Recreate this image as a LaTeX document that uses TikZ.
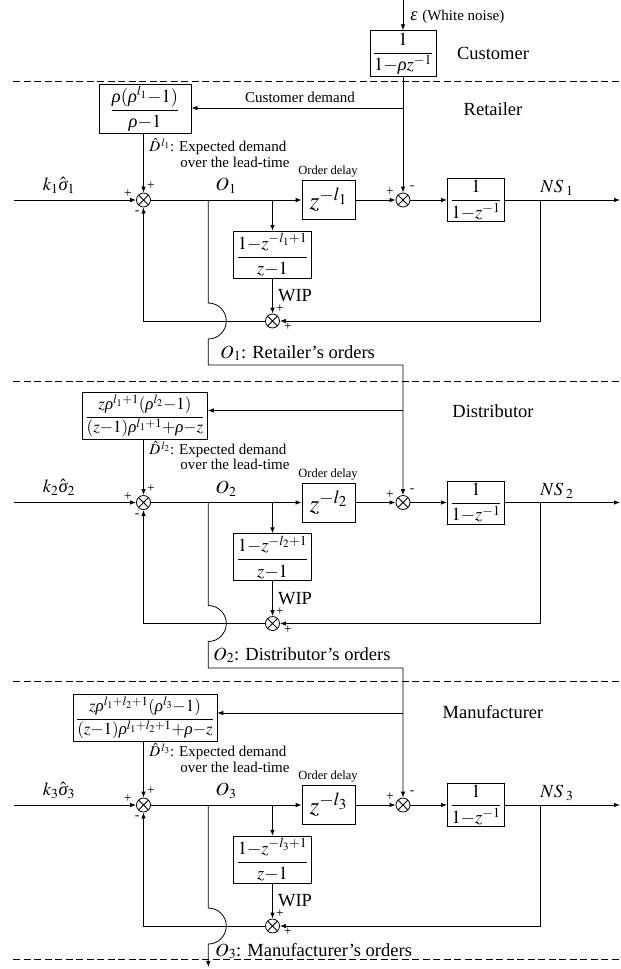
\documentclass[tikz,border=0pt]{standalone}
\usepackage{mathptmx}
\usepackage{amsmath}
\usepackage[no-math]{fontspec}
\setmainfont{Liberation Serif}
\usetikzlibrary{arrows.meta}
\newcommand\grho{\mathord{\textit{ρ}}}
\newcommand\gsig{\mathord{\textit{σ}}}
\newcommand\geps{\mathord{\textit{ε}}}
\tikzset{
  every node/.style={font=\fontsize{18.5}{22}\selectfont, inner sep=0pt},
  med/.style={font=\fontsize{15}{17}\selectfont},
  tiny/.style={font=\fontsize{12.5}{14}\selectfont},
  big/.style={font=\fontsize{25}{28}\selectfont},
  sgn/.style={font=\fontsize{13.5}{15}\selectfont},
  blk/.style={draw, line width=0.8pt, fill=white, inner xsep=3pt, inner ysep=2pt, minimum height=39pt},
  sumj/.style={circle, draw, line width=0.8pt, minimum size=14pt, inner sep=0pt, fill=white,
    path picture={\draw[line width=0.8pt] (path picture bounding box.north west)--(path picture bounding box.south east)
      (path picture bounding box.north east)--(path picture bounding box.south west);}},
  sig/.style={-{Latex[length=6pt,width=4.5pt]}},
  sepline/.style={dash pattern=on 7pt off 3.5pt, line width=0.6pt},
}
\newcommand\Stage[5]{%
\begin{scope}[shift={(0,#2)}]
  \coordinate (in#1) at (14,0);
  \node[sumj] (s#1) at (143.5,0) {};
  \node[blk, big, minimum width=53pt] (dl#1) at (328.5,0) {$z^{-l_#1}$};
  \node[sumj] (t#1) at (403,0) {};
  \node[blk, minimum width=56pt] (ig#1) at (476,0) {$\dfrac{1}{1{-}z^{-1}}$};
  \coordinate (out#1) at (620,0);
  \coordinate (ns#1) at (540.3,0);
  \coordinate (o#1) at (208.3,0);
  \coordinate (w#1) at (272.5,0);
  \node[blk, minimum width=70pt, minimum height=43pt] (wb#1) at (272.5,54.7) {$\dfrac{1{-}z^{-l_#1+1}}{z{-}1}$};
  \node[sumj] (ws#1) at (272.5,121) {};
  \coordinate (fl#1) at (143.5,121);
  \coordinate (fr#1) at (540.3,121);
  \node[blk, #5] (dm#1) at (145,#4) {#3};
  \coordinate (dj#1) at (403,-92);
  \coordinate (hop#1) at (208.3,103);
  \draw[sig] (in#1) -- (s#1);
  \draw[sig] (s#1) -- (dl#1);
  \draw[sig] (dl#1) -- (t#1);
  \draw[sig] (t#1) -- (ig#1);
  \draw[sig] (ig#1) -- (out#1);
  \draw[sig] (w#1) -- (wb#1);
  \draw[sig] (wb#1) -- (ws#1);
  \draw[sig] (ns#1) -- (fr#1) -- (ws#1);
  \draw[sig] (ws#1) -- (fl#1) -- (s#1);
  \draw[sig] (dm#1.south -| s#1) -- (s#1);
  \draw[sig] (dj#1) -- (dm#1.east |- dj#1);
  \node (kl#1) at (59,-15) {$k_#1\hat{\gsig}_#1$};
  \node[sgn] (pa#1) at (128,-6) {+};
  \node[sgn] (pb#1) at (151,-14) {+};
  \node[sgn] (ma#1) at (137,13) {-};
  \node (ol#1) at (226,-14) {$O_#1$};
  \node[tiny] (odl#1) at (328,-28) {Order delay};
  \node[sgn] (pc#1) at (390,-8) {+};
  \node[sgn] (mb#1) at (412,-12) {-};
  \node (nsl#1) at (557,-12) {$NS_{\;#1}$};
  \node (wipl#1) at (295,96) {WIP};
  \node[sgn] (pd#1) at (280,109) {+};
  \node[sgn] (pe#1) at (288,127) {+};
  \node[med, anchor=west] (dha#1) at (149,-53) {${\hat{D}}^{\,l_#1}$: Expected demand};
  \node[med, anchor=west] (dhb#1) at (180,-38) {over the lead-time};
\end{scope}}
\begin{document}
\begin{tikzpicture}[x=1pt,y=-1pt, line width=0.8pt]
\useasboundingbox (0,0) rectangle (621,969);
\foreach \yy in {81,381.7,681.7,959.3} \draw[sepline] (13,\yy) -- (621,\yy);
% customer
\coordinate (eps) at (403,0);
\node[blk, minimum width=58pt, minimum height=41pt] (cust) at (403,53.5) {$\dfrac{1}{1{-}\grho z^{-1}}$};
\draw[sig] (eps) -- (cust);
\node[anchor=west] (epsl) at (410,17) {$\geps$ {\fontsize{15}{17}\selectfont(White noise)}};
\node (custl) at (493,53) {Customer};
\node (retl) at (493,109) {Retailer};
\node (disl) at (493,411) {Distributor};
\node (manl) at (493,712) {Manufacturer};
\node[med] (cdl) at (300,97) {Customer demand};
\Stage{1}{200}{$\dfrac{\grho(\grho^{l_1}{-}1)}{\grho{-}1}$}{-91}{minimum width=92pt, minimum height=44pt}
\Stage{2}{502.5}{$\dfrac{z\grho^{l_1+1}(\grho^{l_2}{-}1)}{(z{-}1)\grho^{l_1+1}{+}\grho{-}z}$}{-86.5}{font=\fontsize{17}{20}\selectfont, minimum width=121pt, minimum height=38pt}
\Stage{3}{805}{$\dfrac{z\grho^{l_1+l_2+1}(\grho^{l_3}{-}1)}{(z{-}1)\grho^{l_1+l_2+1}{+}\grho{-}z}$}{-87}{font=\fontsize{17}{20}\selectfont, minimum width=140pt, minimum height=43pt}
\draw[sig] (cust) -- (t1);
\draw[sig] (o1) -- (hop1) arc[start angle=90,end angle=-90,radius=18pt] -- (208.3,365) -- (403,365) -- (t2);
\draw[sig] (o2) -- (hop2) arc[start angle=90,end angle=-90,radius=18pt] -- (208.3,668) -- (403,668) -- (t3);
\draw[sig] (o3) -- (hop3) arc[start angle=90,end angle=-90,radius=18pt] -- (208.3,967);
\node[anchor=west] (o1t) at (220,353) {$O_1$: Retailer's orders};
\node[anchor=west] (o2t) at (213,655) {$O_2$: Distributor's orders};
\node[anchor=west] (o3t) at (215,951) {$O_3$: Manufacturer's orders};
\end{tikzpicture}
\end{document}
